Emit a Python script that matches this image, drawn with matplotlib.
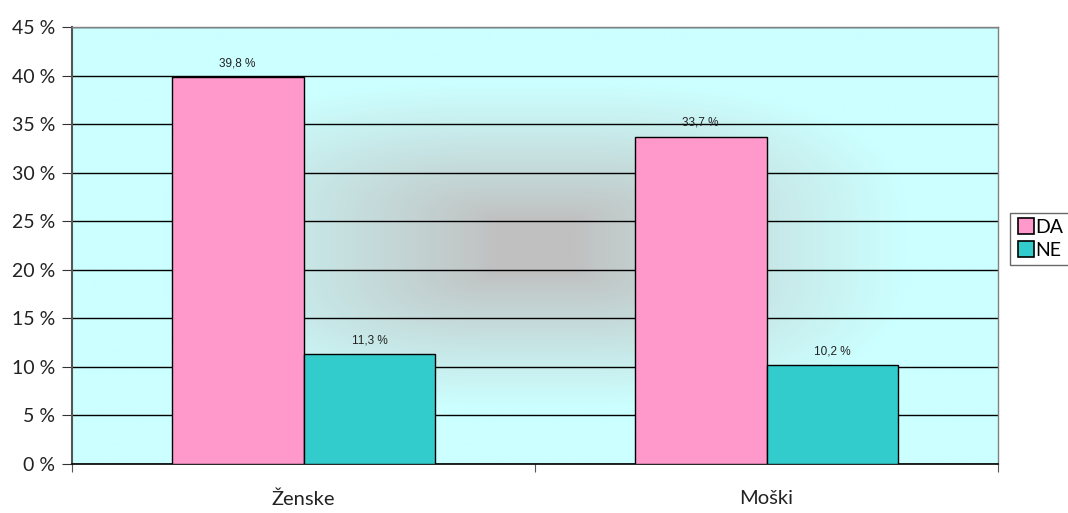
import numpy as np
import matplotlib.pyplot as plt
from matplotlib.lines import Line2D

categories = ["Ženske", "Moški"]
series_names = ["DA", "NE"]
da_values = [39.8, 33.7]
ne_values = [11.3, 10.2]
y_ticks = [0, 5, 10, 15, 20, 25, 30, 35, 40, 45]

colors = {"DA": "#FF99CC", "NE": "#33CCCC"}

plt.rcParams['font.family'] = ['Lato', 'DejaVu Sans']

fig = plt.figure(figsize=(10.68, 5.13), dpi=100)
ax = fig.add_axes([72 / 1068, 1 - 464 / 513, 926 / 1068, 437 / 513])

# gradient background: grey centre fading to light cyan at the edges
nx, ny = 600, 300
xx, yy = np.meshgrid(np.linspace(-1, 1, nx), np.linspace(-1, 1, ny))
u = np.clip(np.abs(xx) - 0.08, 0, None) / 0.72
v = np.clip(np.abs(yy) - 0.12, 0, None) / 0.62
p = 2.5
d = (u ** p + v ** p) ** (1 / p)
t = np.clip(d, 0, 1) ** 0.9
c_in = np.array([0xC0, 0xC0, 0xC0]) / 255
c_out = np.array([0xCC, 0xFF, 0xFF]) / 255
img = c_in[None, None, :] * (1 - t[..., None]) + c_out[None, None, :] * t[..., None]
ax.imshow(img, extent=[-0.5, 1.5, 0, 45], aspect='auto', zorder=0, interpolation='bilinear')

x = np.arange(len(categories))
w = 0.285
ax.bar(x - w / 2, da_values, w, color=colors["DA"], edgecolor='black', linewidth=1.0, zorder=3)
ax.bar(x + w / 2, ne_values, w, color=colors["NE"], edgecolor='black', linewidth=1.0, zorder=3)

label_font = ['Liberation Sans', 'DejaVu Sans']
for xi, v in zip(x - w / 2, da_values):
    ax.text(xi, v + 0.8, f"{v:.1f} %".replace('.', ','), ha='center', va='bottom',
            fontsize=8.5, color='#222222', family=label_font)
for xi, v in zip(x + w / 2, ne_values):
    ax.text(xi, v + 0.8, f"{v:.1f} %".replace('.', ','), ha='center', va='bottom',
            fontsize=8.5, color='#222222', family=label_font)

ax.set_xlim(-0.5, 1.5)
ax.set_ylim(0, 45)
ax.set_yticks(y_ticks)
ax.set_yticklabels([f"{v} %" for v in y_ticks], fontsize=14, color='#222222')
ax.yaxis.grid(True, color='black', linewidth=1.0, zorder=1)
for gl in ax.get_ygridlines():
    gl.set_zorder(1)

ax.set_xticks([-0.5, 0.5, 1.5])
ax.set_xticklabels([])
ax.set_xticks(x, minor=True)
ax.set_xticklabels(categories, minor=True, fontsize=14.5, color='#222222')
ax.tick_params(axis='x', which='minor', length=0, pad=19)
ax.tick_params(axis='x', which='major', length=6, direction='out', color='#555555')
ax.tick_params(axis='y', length=7, direction='out', color='#333333', pad=5)

for side in ['top', 'right']:
    ax.spines[side].set_color('#808080')
    ax.spines[side].set_linewidth(1.0)
ax.spines['left'].set_color('#555555')
ax.spines['left'].set_linewidth(1.5)
ax.spines['bottom'].set_color('black')
ax.spines['bottom'].set_linewidth(1.2)

handles = [Line2D([0], [0], marker='s', linestyle='none', markersize=11,
                  markerfacecolor=colors[n], markeredgecolor='black', markeredgewidth=1.2)
           for n in series_names]
fig.legend(handles, series_names, loc='upper left', bbox_to_anchor=(1010 / 1068, 1 - 213 / 513),
           frameon=True, fancybox=False, edgecolor='#444444', fontsize=14,
           handletextpad=0.0, borderpad=0.3, labelspacing=0.3, handlelength=1.0,
           borderaxespad=0)

fig.savefig('out.png', dpi=100, facecolor='white')
